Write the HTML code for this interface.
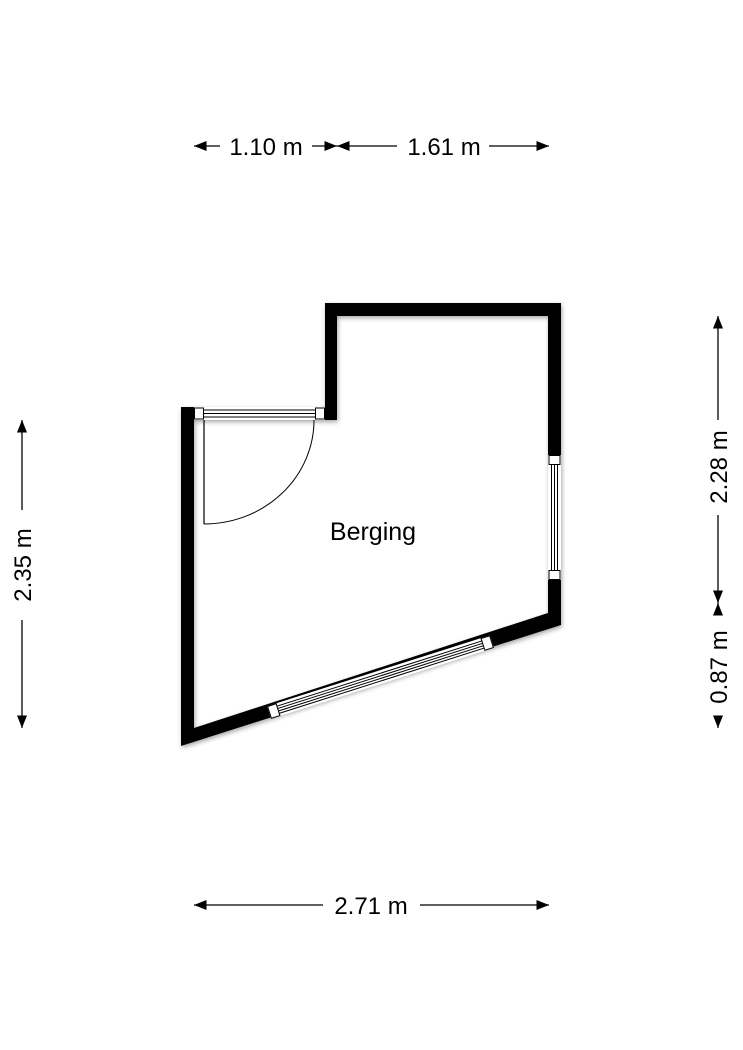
<!DOCTYPE html>
<html><head><style>html,body{margin:0;padding:0;background:#fff}svg{display:block}</style></head>
<body>
<svg width="743" height="1050" viewBox="0 0 743 1050" xmlns="http://www.w3.org/2000/svg" font-family="Liberation Sans, Arial, sans-serif">
<defs>
<marker id="a" viewBox="0 0 10 8" refX="10" refY="4" markerWidth="14" markerHeight="10" markerUnits="userSpaceOnUse" orient="auto-start-reverse"><path d="M0,0L10,4L0,8z" fill="#000"/></marker>
<filter id="sh" x="-10%" y="-10%" width="120%" height="120%"><feGaussianBlur stdDeviation="2.5"/></filter>
</defs>
<path d="M181,407H325V303H561V625L181,746Z M194,420V728L548,613V316H337V420Z" fill-rule="evenodd" fill="#000" opacity="0.35" filter="url(#sh)" transform="translate(1,2)"/>
<path d="M181,407H325V303H561V625L181,746Z M194,420V728L548,613V316H337V420Z" fill-rule="evenodd" fill="#000"/>
<rect x="194" y="407" width="131" height="13" fill="#fff"/>
<rect x="194.5" y="408" width="9" height="11" fill="#fff" stroke="#000" stroke-width="1"/>
<rect x="315.5" y="408" width="9" height="11" fill="#fff" stroke="#000" stroke-width="1"/>
<line x1="204" y1="410" x2="315" y2="410" stroke="#000" stroke-width="1"/>
<line x1="204" y1="413.5" x2="315" y2="413.5" stroke="#000" stroke-width="1"/>
<line x1="204" y1="417" x2="315" y2="417" stroke="#000" stroke-width="1"/>
<line x1="204" y1="420" x2="204" y2="524" stroke="#000" stroke-width="1.2"/>
<path d="M204,524 A110,104 0 0 0 314,420" fill="none" stroke="#000" stroke-width="1"/>
<rect x="548" y="455" width="13" height="125" fill="#fff"/>
<rect x="549" y="455.5" width="11" height="9" fill="#fff" stroke="#000"/>
<rect x="549" y="570.5" width="11" height="9" fill="#fff" stroke="#000"/>
<line x1="551.5" y1="464" x2="551.5" y2="571" stroke="#000"/>
<line x1="554.5" y1="464" x2="554.5" y2="571" stroke="#000"/>
<line x1="557.5" y1="464" x2="557.5" y2="571" stroke="#000"/>
<g transform="translate(267,706.2) rotate(-17.66)">
<rect x="0" y="0" width="234" height="13.3" fill="#fff"/>
<rect x="0.5" y="0.5" width="9" height="12.3" fill="#fff" stroke="#000"/>
<rect x="224.5" y="0.5" width="9" height="12.3" fill="#fff" stroke="#000"/>
<line x1="9" y1="3" x2="225" y2="3" stroke="#000"/>
<line x1="9" y1="5.5" x2="225" y2="5.5" stroke="#000"/>
<line x1="9" y1="8" x2="225" y2="8" stroke="#000"/>
<line x1="9" y1="10.5" x2="225" y2="10.5" stroke="#000"/>
</g>
<text x="373" y="540" font-size="25" text-anchor="middle">Berging</text>
<g stroke="#000" stroke-width="1.3" fill="none">
<line x1="220" y1="146" x2="194" y2="146" marker-end="url(#a)"/>
<line x1="312" y1="146" x2="337" y2="146" marker-end="url(#a)"/>
<line x1="397" y1="146" x2="337" y2="146" marker-end="url(#a)"/>
<line x1="489" y1="146" x2="549" y2="146" marker-end="url(#a)"/>
<line x1="323" y1="905" x2="194" y2="905" marker-end="url(#a)"/>
<line x1="420" y1="905" x2="549" y2="905" marker-end="url(#a)"/>
<line x1="22" y1="510" x2="22" y2="420" marker-end="url(#a)"/>
<line x1="22" y1="620" x2="22" y2="728" marker-end="url(#a)"/>
<line x1="718" y1="420" x2="718" y2="316" marker-end="url(#a)"/>
<line x1="718" y1="515" x2="718" y2="603" marker-end="url(#a)"/>
<line x1="718" y1="605" x2="718" y2="603" marker-end="url(#a)"/>
<line x1="718" y1="726" x2="718" y2="728" marker-end="url(#a)"/>
</g>
<g font-size="24" text-anchor="middle">
<text x="266" y="155">1.10 m</text>
<text x="444" y="155">1.61 m</text>
<text x="371" y="914">2.71 m</text>
<text transform="translate(31,565) rotate(-90)">2.35 m</text>
<text transform="translate(727,467) rotate(-90)">2.28 m</text>
<text transform="translate(727,667) rotate(-90)">0.87 m</text>
</g>
</svg>
</body></html>
